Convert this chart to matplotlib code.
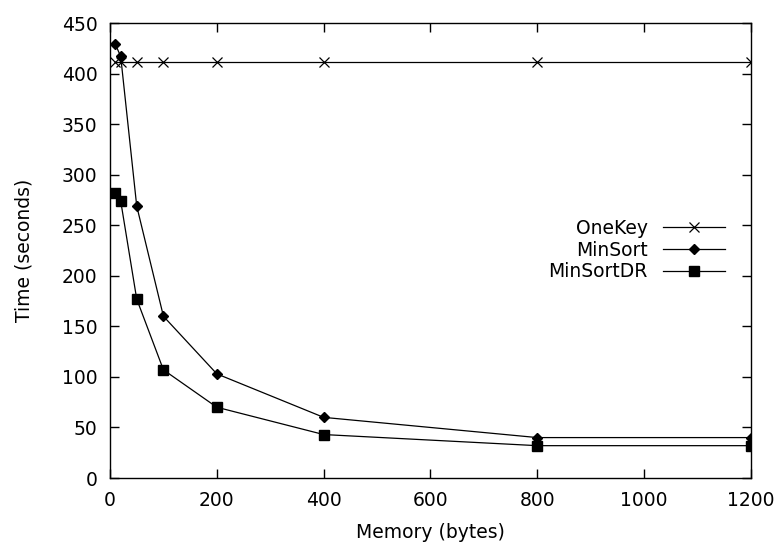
import matplotlib
matplotlib.use('Agg')
import matplotlib.pyplot as plt

memory = [10, 20, 50, 100, 200, 400, 800, 1200]
onekey = [411, 411, 411, 411, 411, 411, 411, 411]
minsort = [429, 417, 269, 160, 103, 60, 40, 40]
minsortdr = [282, 274, 177, 107, 70, 43, 32, 32]

plt.rcParams['font.family'] = 'DejaVu Sans'
plt.rcParams['font.size'] = 13.5

fig = plt.figure(figsize=(7.83, 5.46), dpi=100)
ax = fig.add_axes([0.1405, 0.1245, 0.8186, 0.8333])

ax.plot(memory, onekey, color='black', lw=0.9, marker='x', ms=6.5, mew=0.9, label='OneKey')
ax.plot(memory, minsort, color='black', lw=0.9, marker='D', ms=5.5, label='MinSort')
ax.plot(memory, minsortdr, color='black', lw=0.9, marker='s', ms=7, label='MinSortDR')

ax.set_xlim(0, 1200)
ax.set_ylim(0, 450)
ax.set_xticks(range(0, 1201, 200))
ax.set_yticks(range(0, 451, 50))
ax.tick_params(direction='in', top=True, right=True, length=6.5, width=1, labelsize=13.5, pad=9)
for s in ax.spines.values():
    s.set_linewidth(1)

ax.set_xlabel('Memory (bytes)', fontsize=13.5, labelpad=10)
ax.set_ylabel('Time (seconds)', fontsize=13.5, labelpad=20)

leg = ax.legend(loc='center right', bbox_to_anchor=(0.959, 0.501), frameon=False,
                borderaxespad=0, borderpad=0, markerfirst=False, handlelength=3.3,
                handletextpad=0.8, labelspacing=0.15, fontsize=13.5)
for t in leg.get_texts():
    t.set_ha('right')

fig.savefig('out.png', dpi=100)
